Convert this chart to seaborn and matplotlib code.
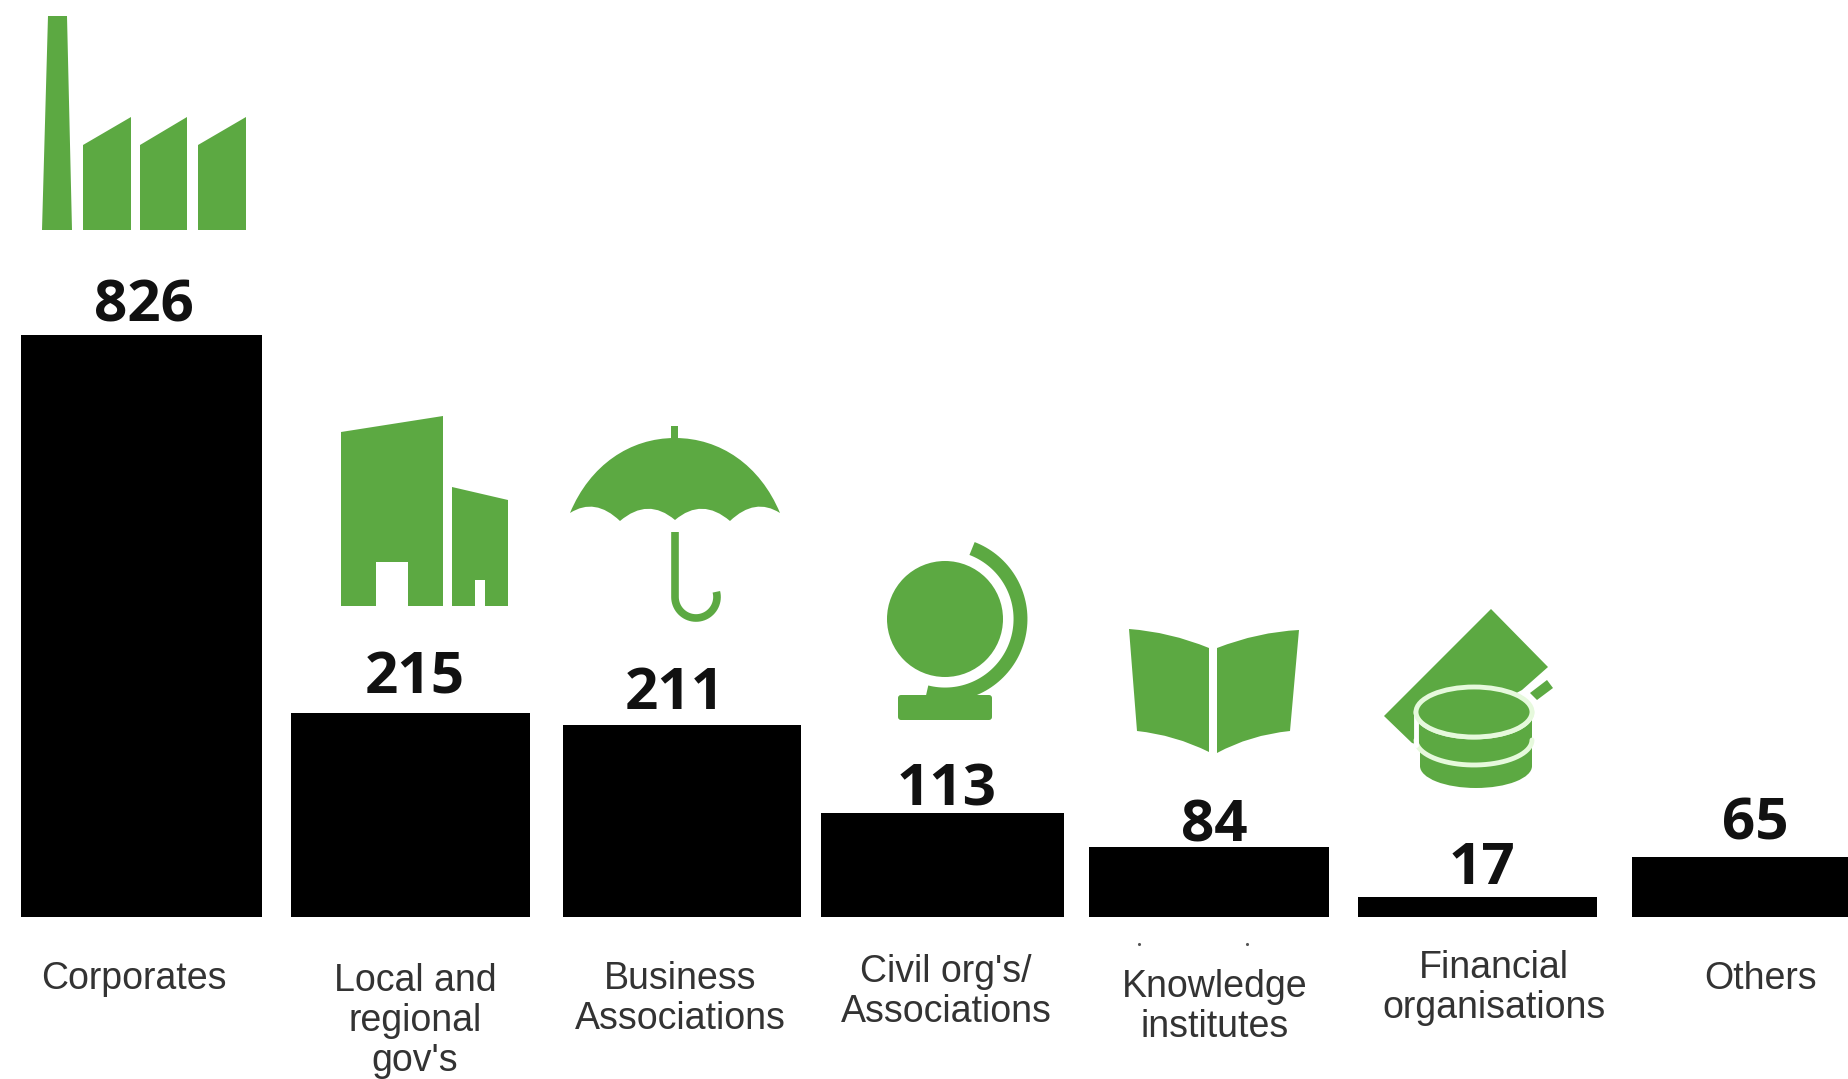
import numpy as np
import pandas as pd
import seaborn as sns
import matplotlib
matplotlib.use("Agg")
import matplotlib.pyplot as plt
from matplotlib.path import Path
from matplotlib.patches import PathPatch, Polygon, Circle, Ellipse, Rectangle, FancyBboxPatch

# Data
categories = ["Corporates", "Local and\nregional\ngov's", "Business\nAssociations",
              "Civil org's/\nAssociations", "Knowledge\ninstitutes",
              "Financial\norganisations", "Others"]
values = [826, 215, 211, 113, 84, 17, 65]
# the bars in the original are not to scale with the numbers, so heights are read separately
bar_heights = [582, 204, 192, 104, 70, 20, 60]

# Layout, in pixels of the reference
bar_left = [21, 291, 563, 821, 1089, 1358, 1632]
bar_right = [262, 530, 801, 1064, 1329, 1597, 1870]
value_xy = [(144, 300), (415, 672), (675, 687), (947, 783), (1214, 819), (1482, 862), (1755, 817)]
label_xy = [(134, 979), (415, 1021), (680, 999), (946, 992), (1215, 1007), (1494, 988), (1761, 979)]

GREEN = "#5CA942"
PALE = "#E6F9DC"

sns.set_theme(style="white")

fig = plt.figure(figsize=(18.48, 10.79), dpi=100, facecolor="white")
ax = fig.add_axes([0, 0, 1, 1])

df = pd.DataFrame({"pos": [(a + b) / 2 for a, b in zip(bar_left, bar_right)], "height": bar_heights})
sns.barplot(data=df, x="pos", y="height", native_scale=True, color="black",
            saturation=1, linewidth=0, errorbar=None, ax=ax)
for patch, left, right in zip(ax.patches, bar_left, bar_right):
    patch.set_x(left)
    patch.set_width(right - left)
ax.set_xlim(0, 1848)
ax.set_ylim(-162, 917)
ax.axis("off")

# overlay in reference pixels for icons and text
ov = fig.add_axes([0, 0, 1, 1], frameon=False)
ov.set_xlim(0, 1848)
ov.set_ylim(1079, 0)
ov.axis("off")


def poly(points, color=GREEN):
    ov.add_patch(Polygon(points, closed=True, facecolor=color, edgecolor="none"))


# factory
poly([(48, 16), (67, 16), (72, 230), (42, 230)])
for x0, x1 in [(83, 131), (140, 187), (198, 246)]:
    poly([(x0, 145), (x1, 117), (x1, 230), (x0, 230)])

# city buildings
poly([(341, 432), (443, 416), (443, 606), (408, 606), (408, 562), (376, 562), (376, 606), (341, 606)])
poly([(452, 487), (508, 500), (508, 606), (485, 606), (485, 580), (475, 580), (475, 606), (452, 606)])

# umbrella
canopy = [(570, 513), (590, 465), (630, 438), (675, 438), (720, 438), (760, 465), (780, 513),
          (755, 497), (730, 521), (702, 497), (675, 520), (648, 497), (620, 521), (595, 497), (570, 513)]
codes = [Path.MOVETO] + [Path.CURVE4] * 6 + [Path.CURVE3] * 8
ov.add_patch(PathPatch(Path(canopy, codes), facecolor=GREEN, edgecolor="none"))
ov.add_patch(Rectangle((671, 426), 7, 14, facecolor=GREEN, edgecolor="none"))
t = np.linspace(np.pi, 2 * np.pi + 0.25, 40)
handle_x = np.r_[675, 696 + 21 * np.cos(t)]
handle_y = np.r_[532, 597 - 21 * np.sin(t)]
ov.plot(handle_x, handle_y, color=GREEN, lw=5.5, solid_capstyle="butt")

# globe
ov.add_patch(Circle((945, 619), 58, facecolor=GREEN, edgecolor="none"))
t = np.radians(np.linspace(69, -104, 80))
ov.plot(945 + 75.5 * np.cos(t), 619 - 75.5 * np.sin(t), color=GREEN, lw=10, solid_capstyle="butt")
ov.add_patch(FancyBboxPatch((901, 698), 88, 19, boxstyle="round,pad=3", facecolor=GREEN, edgecolor="none"))

# book
for pts in [[(1129, 629), (1170, 632), (1209, 648), (1209, 752), (1175, 735), (1137, 731), (1129, 629)],
            [(1299, 630), (1258, 632), (1217, 648), (1217, 753), (1250, 735), (1290, 731), (1299, 630)]]:
    book_codes = [Path.MOVETO, Path.CURVE3, Path.CURVE3, Path.LINETO, Path.CURVE3, Path.CURVE3, Path.CLOSEPOLY]
    ov.add_patch(PathPatch(Path(pts, book_codes), facecolor=GREEN, edgecolor="none"))

# money and coins
poly([(1491, 609), (1548, 667), (1522, 690), (1420, 745), (1412, 743), (1384, 716)])
poly([(1547, 680), (1553, 688), (1537, 700), (1530, 693)])
ov.add_patch(Ellipse((1476, 766), 112, 44, facecolor=GREEN, edgecolor="none"))
ov.add_patch(Rectangle((1420, 712), 112, 54, facecolor=GREEN, edgecolor="none"))
t = np.linspace(np.pi, 2 * np.pi, 40)
for cy in [740, 712]:
    ov.plot(1474 + 58 * np.cos(t), cy - 25 * np.sin(t), color=PALE, lw=3.5, zorder=3)
ov.plot([1416, 1416], [712, 745], color="white", lw=3.5, zorder=3)
ov.add_patch(Ellipse((1474, 712), 116, 50, facecolor=GREEN, edgecolor=PALE, lw=3.5, zorder=4))

# stray specks above Knowledge institutes
ov.scatter([1139, 1247], [944, 944], s=5, color="#555555", linewidths=0)

for val, (x, y) in zip(values, value_xy):
    ov.text(x, y, str(val), ha="center", va="center_baseline", fontsize=42,
            fontfamily="Open Sans", fontweight="bold", color="#111111")

for lab, (x, y) in zip(categories, label_xy):
    ov.text(x, y, lab, ha="center", va="center", fontsize=27, linespacing=1.16,
            fontfamily="Liberation Sans", color="#333333")

plt.savefig("out.png", dpi=100, facecolor="white")
plt.close()
